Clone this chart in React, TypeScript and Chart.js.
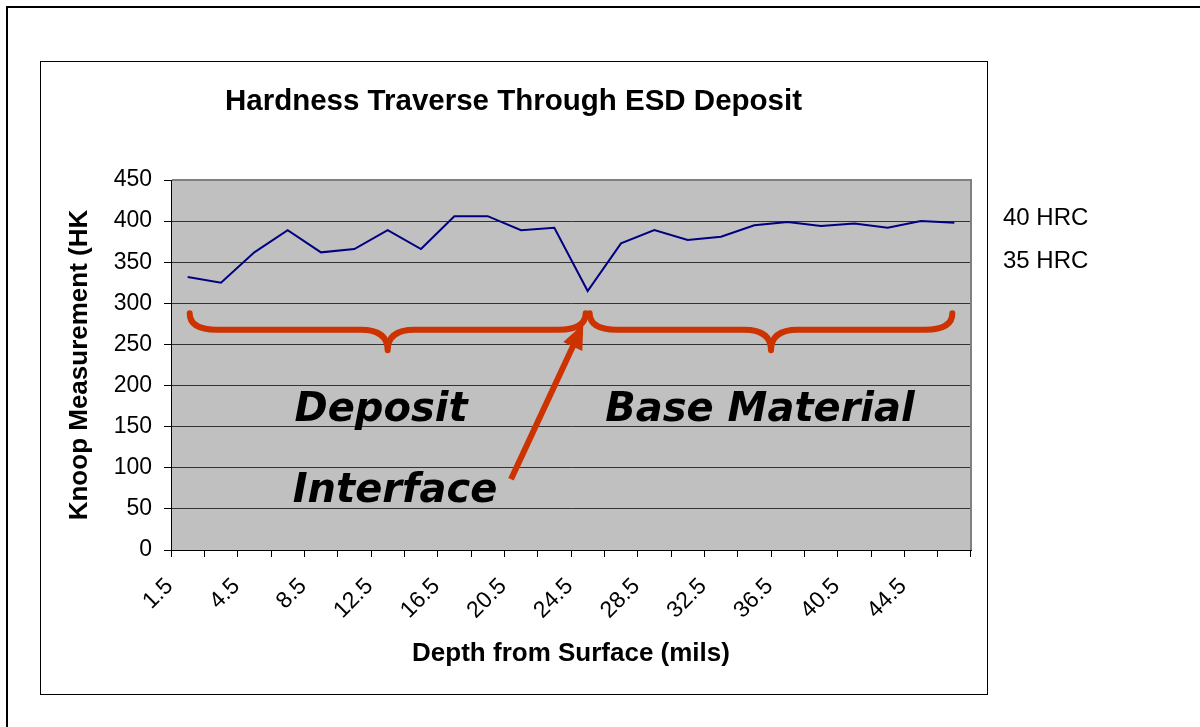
import React, { useEffect, useRef } from 'react';
import { Chart, registerables } from 'chart.js';

Chart.register(...registerables);

// ---- data ----
const depthLabels = ['1.5', '3', '4.5', '6.5', '8.5', '10.5', '12.5', '14.5', '16.5', '18.5', '20.5', '22.5',
  '24.5', '26.5', '28.5', '30.5', '32.5', '34.5', '36.5', '38.5', '40.5', '42.5', '44.5', '46.5'];
const hardnessValues = [332, 325, 362, 389, 362, 366, 389, 366, 406, 406, 389, 392,
  315, 373, 389, 377, 381, 395, 399, 394, 397, 392, 400, 398];
const yMin = 0;
const yMax = 450;
const yStep = 50;

const chartTitle = 'Hardness Traverse Through ESD Deposit';
const xTitle = 'Depth from Surface (mils)';
const yTitle = 'Knoop Measurement (HK';

const hrcLabels = ['40 HRC', '35 HRC'];
const hrcValues = [403, 351];

const regionLabels = ['Deposit', 'Base Material', 'Interface'];
const regionLabelCats = [5.8, 17.17, 6.22];
const regionLabelValues = [157, 157, 58];

const braceStartCats = [0, 12];
const braceEndCats = [12, 23];
const braceTipValue = 288;
const braceBarValue = 268;
const braceCuspValue = 243;

const arrowFrom = [9.7, 86];
const arrowTo = [11.87, 275];

const FONT = '"Liberation Sans", Arial, Helvetica, sans-serif';
const ANNOT = '#CC3300';

const decorPlugin = {
  id: 'decor',
  beforeDraw(chart: any) {
    const { ctx, chartArea: a } = chart;
    ctx.save();
    ctx.fillStyle = '#ffffff';
    ctx.fillRect(0, 0, chart.width, chart.height);
    // outer frame
    ctx.fillStyle = '#000000';
    ctx.fillRect(6, 6, 2, chart.height - 6);
    ctx.fillRect(6, 6, chart.width - 6, 2);
    // inner chart box
    ctx.strokeStyle = '#000000';
    ctx.lineWidth = 1;
    ctx.strokeRect(40.5, 61.5, 947, 633);
    // plot area background
    ctx.fillStyle = '#C0C0C0';
    ctx.fillRect(a.left, a.top, a.right - a.left, a.bottom - a.top);
    ctx.restore();
  },
  afterDraw(chart: any) {
    const { ctx, chartArea: a } = chart;
    const xs = chart.scales.x;
    const ys = chart.scales.y;
    const px = (c: number) => xs.getPixelForValue(c);
    const py = (v: number) => ys.getPixelForValue(v);
    ctx.save();

    // plot border top/right (gray)
    ctx.fillStyle = '#808080';
    ctx.fillRect(a.left + 1, a.top - 1, a.right - a.left, 2);
    ctx.fillRect(a.right - 1, a.top - 1, 2, a.bottom - a.top + 1);

    // title
    ctx.fillStyle = '#000';
    ctx.font = 'bold 29.5px ' + FONT;
    ctx.textAlign = 'center';
    ctx.textBaseline = 'alphabetic';
    ctx.fillText(chartTitle, 513.5, 110);

    // HRC labels
    ctx.font = '24px ' + FONT;
    ctx.textAlign = 'left';
    ctx.textBaseline = 'middle';
    hrcLabels.forEach((t, i) => ctx.fillText(t, a.right + 32, py(hrcValues[i])));

    // braces
    ctx.strokeStyle = ANNOT;
    ctx.lineWidth = 6;
    ctx.lineCap = 'round';
    ctx.lineJoin = 'round';
    braceStartCats.forEach((c0, i) => {
      const x0 = px(c0) + 2;
      const x1 = px(braceEndCats[i]) - 2;
      const xm = (x0 + x1) / 2;
      const yt = py(braceTipValue);
      const yb = py(braceBarValue);
      const yc = py(braceCuspValue);
      const r = 27;
      ctx.beginPath();
      ctx.moveTo(x0, yt);
      ctx.quadraticCurveTo(x0, yb, x0 + r, yb);
      ctx.lineTo(xm - r, yb);
      ctx.quadraticCurveTo(xm, yb, xm, yc);
      ctx.quadraticCurveTo(xm, yb, xm + r, yb);
      ctx.lineTo(x1 - r, yb);
      ctx.quadraticCurveTo(x1, yb, x1, yt);
      ctx.stroke();
    });

    // arrow
    const ax0 = px(arrowFrom[0]);
    const ay0 = py(arrowFrom[1]);
    const ax1 = px(arrowTo[0]);
    const ay1 = py(arrowTo[1]);
    const dx = ax1 - ax0;
    const dy = ay1 - ay0;
    const len = Math.sqrt(dx * dx + dy * dy);
    const ux = dx / len;
    const uy = dy / len;
    const headLen = 25;
    const headHalf = 10.5;
    const bx = ax1 - ux * headLen;
    const by = ay1 - uy * headLen;
    ctx.lineCap = 'butt';
    ctx.beginPath();
    ctx.moveTo(ax0, ay0);
    ctx.lineTo(bx + ux * 2, by + uy * 2);
    ctx.stroke();
    ctx.fillStyle = ANNOT;
    ctx.beginPath();
    ctx.moveTo(ax1, ay1);
    ctx.lineTo(bx - uy * headHalf, by + ux * headHalf);
    ctx.lineTo(bx + uy * headHalf, by - ux * headHalf);
    ctx.closePath();
    ctx.fill();

    // region labels
    ctx.fillStyle = '#000';
    ctx.font = 'italic bold 40px "DejaVu Sans", Verdana, sans-serif';
    ctx.textAlign = 'center';
    ctx.textBaseline = 'alphabetic';
    regionLabels.forEach((t, i) => ctx.fillText(t, px(regionLabelCats[i]), py(regionLabelValues[i])));

    ctx.restore();
  },
};

export default function App() {
  const canvasRef = useRef<HTMLCanvasElement | null>(null);

  useEffect(() => {
    if (!canvasRef.current) return;
    Chart.defaults.font.family = FONT;
    const chart = new Chart(canvasRef.current, {
      type: 'line',
      data: {
        labels: depthLabels,
        datasets: [
          {
            data: hardnessValues,
            borderColor: '#000080',
            borderWidth: 2,
            pointRadius: 0,
            tension: 0,
            fill: false,
          },
        ],
      },
      options: {
        responsive: false,
        animation: false,
        events: [],
        layout: { padding: { left: 40, right: 229, top: 180, bottom: 33 } },
        plugins: {
          legend: { display: false },
          tooltip: { enabled: false },
          title: { display: false },
        },
        scales: {
          x: {
            type: 'category',
            offset: true,
            grid: {
              display: true,
              offset: true,
              drawOnChartArea: false,
              drawTicks: true,
              tickLength: 7,
              tickColor: '#000',
              color: '#000',
            },
            border: { display: true, color: '#000', width: 1 },
            ticks: {
              autoSkip: false,
              minRotation: 45,
              maxRotation: 45,
              padding: 16,
              labelOffset: -18,
              color: '#000',
              font: { family: FONT, size: 23 },
              callback: (_v: any, i: number) => (i % 2 === 0 ? depthLabels[i] : ''),
            },
            title: {
              display: true,
              text: xTitle,
              color: '#000',
              font: { family: FONT, size: 26, weight: 'bold' },
              padding: { top: 0, bottom: 25 },
            },
            afterFit: (s: any) => {
              s.height = 144;
            },
          },
          y: {
            min: yMin,
            max: yMax,
            ticks: {
              stepSize: yStep,
              padding: 12,
              color: '#000',
              font: { family: FONT, size: 23 },
            },
            grid: {
              color: '#333333',
              lineWidth: 1,
              drawTicks: true,
              tickLength: 7,
              tickColor: '#000',
            },
            border: { display: true, color: '#000', width: 1 },
            title: {
              display: true,
              text: yTitle,
              color: '#000',
              font: { family: FONT, size: 26, weight: 'bold' },
              padding: { top: 24, bottom: 0 },
            },
            afterFit: (s: any) => {
              s.width = 131;
            },
          },
        },
      } as any,
      plugins: [decorPlugin],
    });
    return () => chart.destroy();
  }, []);

  return (
    <div style={{ position: 'absolute', left: 0, top: 0, width: 1200, height: 727, background: '#fff' }}>
      <canvas ref={canvasRef} width={1200} height={727} style={{ display: 'block' }} />
    </div>
  );
}
